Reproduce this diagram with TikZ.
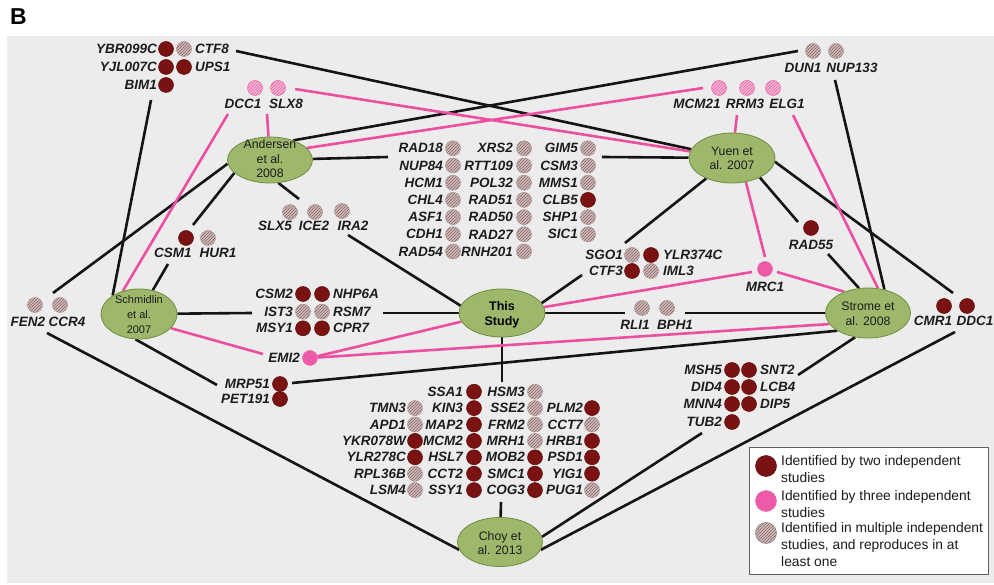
\documentclass[tikz,border=0pt]{standalone}
\usepackage{fontspec}
\setmainfont{Liberation Sans}
\usetikzlibrary{patterns,shapes.geometric}
\definecolor{bgc}{HTML}{ECECEC}
\definecolor{dred}{HTML}{7A1212}
\definecolor{dredb}{HTML}{5C0A0A}
\definecolor{gfill}{HTML}{CDBDBD}
\definecolor{gline}{HTML}{8C6262}
\definecolor{pfill}{HTML}{F9B4D6}
\definecolor{pline}{HTML}{E46AA6}
\definecolor{psolid}{HTML}{EE5AAA}
\definecolor{pinkln}{HTML}{EC4FA1}
\definecolor{efill}{HTML}{9DB86B}
\definecolor{edraw}{HTML}{6E8E3E}
\definecolor{txt}{HTML}{1C1C1C}
\pgfdeclarelayer{back}
\pgfdeclarelayer{lines}
\pgfsetlayers{back,lines,main}
\begin{document}
\begin{tikzpicture}[x=1pt,y=-1pt,
  gene/.style={inner sep=0pt, font=\fontsize{13.5}{15}\selectfont\bfseries\itshape, text=txt},
  dotD/.style={circle, inner sep=0pt, minimum size=15pt, fill=dred, draw=dredb, line width=0.5pt},
  dotG/.style={circle, inner sep=0pt, minimum size=15pt, draw=gline!70, line width=0.5pt, preaction={fill=gfill}, pattern=north east lines, pattern color=gline},
  dotP/.style={circle, inner sep=0pt, minimum size=15pt, draw=pline, line width=0.5pt, preaction={fill=pfill}, pattern=north east lines, pattern color=pline},
  dotS/.style={circle, inner sep=0pt, minimum size=15pt, fill=psolid, draw=pline, line width=0.5pt},
  study/.style={ellipse, fill=efill, draw=edraw, line width=0.8pt, inner sep=0pt},
  stext/.style={align=center, inner sep=0pt, text=txt, font=\fontsize{12.3}{14.5}\selectfont},
  bl/.style={line width=2.6pt, black!92},
  pk/.style={line width=2.6pt, pinkln},
  legtext/.style={anchor=north west, align=left, inner sep=0pt, text=txt, font=\fontsize{13.8}{17}\selectfont}
]
\useasboundingbox (0,0) rectangle (994,585);
\begin{pgfonlayer}{back}
\fill[bgc] (7,36) rectangle (994,583);
\end{pgfonlayer}
\node[font=\fontsize{23}{23}\selectfont\bfseries, inner sep=0pt] (B) at (18.5,16.5) {B};

% ---- study ellipses ----
\node[study, minimum width=85pt, minimum height=46pt] (A) at (270,160) {};
\node[stext] (A-t) at (270,159) {Andersen\\et al.\\2008};
\node[study, minimum width=86pt, minimum height=50pt] (Y) at (732,158) {};
\node[stext] (Y-t) at (732,158.5) {Yuen et\\al. 2007};
\node[study, minimum width=76pt, minimum height=50pt] (S) at (139,314) {};
\node[stext, font=\fontsize{11}{15}\selectfont] (S-t) at (139,315) {Schmidlin\\et al.\\2007};
\node[study, minimum width=86pt, minimum height=48pt] (T) at (502,313) {};
\node[stext, font=\fontsize{12.5}{15}\selectfont\bfseries, text=black] (T-t) at (502,314.5) {This\\Study};
\node[study, minimum width=85pt, minimum height=50pt] (R) at (868,313) {};
\node[stext] (R-t) at (868,314) {Strome et\\al. 2008};
\node[study, minimum width=85pt, minimum height=49pt] (C) at (500,542) {};
\node[stext] (C-t) at (500,543) {Choy et\\al. 2013};

% ---- top-left group ----
\node[gene,anchor=east] (l-YBR099C) at (157,49) {YBR099C};
\node[dotD] (d-YBR099C) at (166,49) {};
\node[dotG] (d-CTF8) at (184,49) {};
\node[gene,anchor=west] (l-CTF8) at (195,49) {CTF8};
\node[gene,anchor=east] (l-YJL007C) at (157,67) {YJL007C};
\node[dotD] (d-YJL007C) at (166,67) {};
\node[dotD] (d-UPS1) at (184,67) {};
\node[gene,anchor=west] (l-UPS1) at (195,67) {UPS1};
\node[gene,anchor=east] (l-BIM1) at (157,85) {BIM1};
\node[dotD] (d-BIM1) at (166,85) {};
\coordinate (cCTF8) at (236,51);
\coordinate (cBIM1) at (151,100);

% ---- DCC1 / SLX8 ----
\node[dotP] (d-DCC1) at (255,88) {};
\node[dotP] (d-SLX8) at (278,88) {};
\node[gene] (l-DCC1) at (243,104) {DCC1};
\node[gene] (l-SLX8) at (286,104) {SLX8};
\coordinate (cDCC1) at (228,114);
\coordinate (cSLX8) at (267,114);
\coordinate (cSLX8r) at (295,89);

% ---- MCM21 / RRM3 / ELG1 ----
\node[dotP] (d-MCM21) at (719,88) {};
\node[dotP] (d-RRM3) at (747,88) {};
\node[dotP] (d-ELG1) at (773,88) {};
\node[gene] (l-MCM21) at (697,104) {MCM21};
\node[gene] (l-RRM3) at (745,104) {RRM3};
\node[gene] (l-ELG1) at (787,104) {ELG1};
\coordinate (cMCM21) at (703,88);
\coordinate (cRRM3) at (737,115);
\coordinate (cELG1) at (793,115);

% ---- DUN1 / NUP133 ----
\node[dotG] (d-DUN1) at (813,51) {};
\node[dotG] (d-NUP133) at (836,51) {};
\node[gene] (l-DUN1) at (803,68) {DUN1};
\node[gene] (l-NUP133) at (852,68) {NUP133};
\coordinate (cDUN1) at (798,51);
\coordinate (cNUP133) at (835,80);

% ---- central top cluster ----
\foreach \n/\t [count=\i from 0] in {RAD18/G,NUP84/G,HCM1/G,CHL4/G,ASF1/G,CDH1/G,RAD54/G}{
  \node[dot\t] (d-\n) at (453,{148.3+17.2*\i}) {};
  \node[gene,anchor=east] (l-\n) at (443,{148.3+17.2*\i}) {\n};}
\foreach \n/\t [count=\i from 0] in {XRS2/G,RTT109/G,POL32/G,RAD51/G,RAD50/G,RAD27/G,RNH201/G}{
  \node[dot\t] (d-\n) at (524,{148.3+17.2*\i}) {};
  \node[gene,anchor=east] (l-\n) at (513,{148.3+17.2*\i}) {\n};}
\foreach \n/\t [count=\i from 0] in {GIM5/G,CSM3/G,MMS1/G,CLB5/D,SHP1/G,SIC1/G}{
  \node[dot\t] (d-\n) at (588,{148.3+17.2*\i}) {};
  \node[gene,anchor=east] (l-\n) at (578,{148.3+17.2*\i}) {\n};}
\coordinate (cRADl) at (388,157);
\coordinate (cRADr) at (602,157);

% ---- SLX5 / ICE2 / IRA2 ----
\node[dotG] (d-SLX5) at (290,212) {};
\node[dotG] (d-ICE2) at (315,212) {};
\node[dotG] (d-IRA2) at (342,211) {};
\node[gene] (l-SLX5) at (275,226) {SLX5};
\node[gene] (l-ICE2) at (314,226) {ICE2};
\node[gene] (l-IRA2) at (353,226) {IRA2};
\coordinate (cSLX5) at (299,199);
\coordinate (cIRA2) at (348,235);

% ---- CSM1 / HUR1 ----
\node[dotD] (d-CSM1) at (186,238) {};
\node[dotG] (d-HUR1) at (208,238) {};
\node[gene] (l-CSM1) at (173,253) {CSM1};
\node[gene] (l-HUR1) at (218,253) {HUR1};
\coordinate (cCSM1t) at (193,225);
\coordinate (cCSM1b) at (168,264);

% ---- FEN2 / CCR4 ----
\node[dotG] (d-FEN2) at (35,305) {};
\node[dotG] (d-CCR4) at (60,305) {};
\node[gene] (l-FEN2) at (28,322) {FEN2};
\node[gene] (l-CCR4) at (67,322) {CCR4};
\coordinate (cFENt) at (53,293);
\coordinate (cFENb) at (47,333);

% ---- CSM2 group ----
\foreach \a/\ta/\b/\tb/\y in {CSM2/D/NHP6A/D/294,IST3/G/RSM7/G/311.7,MSY1/D/CPR7/D/328.3}{
  \node[gene,anchor=east] (l-\a) at (293,\y) {\a};
  \node[dot\ta] (d-\a) at (303,\y) {};
  \node[dot\tb] (d-\b) at (322,\y) {};
  \node[gene,anchor=west] (l-\b) at (333,\y) {\b};}
\coordinate (cCSM2l) at (252,313);
\coordinate (cRSM7r) at (383,313);

% ---- EMI2 ----
\node[gene,anchor=east] (l-EMI2) at (300,358) {EMI2};
\node[dotS] (d-EMI2) at (310,358) {};
\coordinate (cEMI2) at (263,354);

% ---- MRP51 / PET191 ----
\node[gene,anchor=east] (l-MRP51) at (270,384) {MRP51};
\node[dotD] (d-MRP51) at (280,384) {};
\node[gene,anchor=east] (l-PET191) at (270,399) {PET191};
\node[dotD] (d-PET191) at (280,399) {};
\coordinate (cMRPl) at (217,385);
\coordinate (cMRPr) at (292,383);

% ---- SGO1 group ----
\node[gene,anchor=east] (l-SGO1) at (623,255) {SGO1};
\node[dotG] (d-SGO1) at (632,255) {};
\node[dotD] (d-YLR374C) at (651,255) {};
\node[gene,anchor=west] (l-YLR374C) at (663,255) {YLR374C};
\node[gene,anchor=east] (l-CTF3) at (623,271) {CTF3};
\node[dotD] (d-CTF3) at (632,271) {};
\node[dotG] (d-IML3) at (651,271) {};
\node[gene,anchor=west] (l-IML3) at (663,271) {IML3};
\coordinate (cSGO1) at (625,243);
\coordinate (cCTF3) at (582,275);

% ---- RAD55 ----
\node[dotD] (d-RAD55) at (811,228) {};
\node[gene] (l-RAD55) at (811,245) {RAD55};
\coordinate (cRAD55t) at (798,222);
\coordinate (cRAD55b) at (828,254);

% ---- MRC1 ----
\node[dotS] (d-MRC1) at (765,269) {};
\node[gene] (l-MRC1) at (765,287) {MRC1};
\coordinate (cMRCt) at (765,257);
\coordinate (cMRCl) at (752,272);
\coordinate (cMRCr) at (777,272);

% ---- RLI1 / BPH1 ----
\node[dotG] (d-RLI1) at (642,308) {};
\node[dotG] (d-BPH1) at (667,308) {};
\node[gene] (l-RLI1) at (635,325) {RLI1};
\node[gene] (l-BPH1) at (675,325) {BPH1};
\coordinate (cRLI1) at (625,313);
\coordinate (cBPH1) at (685,313);

% ---- CMR1 / DDC1 ----
\node[dotD] (d-CMR1) at (944,306) {};
\node[dotD] (d-DDC1) at (967,306) {};
\node[gene] (l-CMR1) at (933,321) {CMR1};
\node[gene] (l-DDC1) at (975,321) {DDC1};
\coordinate (cDDCt) at (953,293);
\coordinate (cDDCb) at (955,332);

% ---- MSH5 group ----
\foreach \a/\b/\y in {MSH5/SNT2/370,DID4/LCB4/387,MNN4/DIP5/404}{
  \node[gene,anchor=east] (l-\a) at (722,\y) {\a};
  \node[dotD] (d-\a) at (732,\y) {};
  \node[dotD] (d-\b) at (749,\y) {};
  \node[gene,anchor=west] (l-\b) at (760,\y) {\b};}
\node[gene,anchor=east] (l-TUB2) at (722,422) {TUB2};
\node[dotD] (d-TUB2) at (732,422) {};
\coordinate (cMSH5) at (798,375);
\coordinate (cTUB2) at (702,433);

% ---- Choy cluster ----
\foreach \n/\t [count=\i from 1] in {TMN3/G,APD1/G,YKR078W/D,YLR278C/D,RPL36B/G,LSM4/G}{
  \node[dot\t] (d-\n) at (415,{391.7+16.4*\i}) {};
  \node[gene,anchor=east] (l-\n) at (406,{391.7+16.4*\i}) {\n};}
\foreach \n/\t [count=\i from 0] in {SSA1/D,KIN3/D,MAP2/D,MCM2/D,HSL7/D,CCT2/D,SSY1/D}{
  \node[dot\t] (d-\n) at (474,{391.7+16.4*\i}) {};
  \node[gene,anchor=east] (l-\n) at (463,{391.7+16.4*\i}) {\n};}
\foreach \n/\t [count=\i from 0] in {HSM3/G,SSE2/G,FRM2/G,MRH1/G,MOB2/D,SMC1/D,COG3/D}{
  \node[dot\t] (d-\n) at (535,{391.7+16.4*\i}) {};
  \node[gene,anchor=east] (l-\n) at (525,{391.7+16.4*\i}) {\n};}
\foreach \n/\t [count=\i from 1] in {PLM2/D,CCT7/G,HRB1/D,PSD1/D,YIG1/D,PUG1/G}{
  \node[dot\t] (d-\n) at (592,{391.7+16.4*\i}) {};
  \node[gene,anchor=east] (l-\n) at (583,{391.7+16.4*\i}) {\n};}
\coordinate (cClTop) at (502,382);
\coordinate (cClBot) at (501,502);

% ---- legend ----
\node[draw=gray!75!black, fill=white, line width=0.8pt, minimum width=239pt, minimum height=127pt, anchor=north west, inner sep=0pt] (legend) at (749,447) {};
\node[dotD, minimum size=21pt] (lg-d) at (766,466) {};
\node[dotS, minimum size=21pt] (lg-s) at (766,501) {};
\node[dotG, minimum size=21pt, draw=gray] (lg-g) at (766,533) {};
\node[legtext] (lg-t1) at (781,455) {Identified by two independent\\studies};
\node[legtext] (lg-t2) at (781,490) {Identified by three independent\\studies};
\node[legtext] (lg-t3) at (781,522) {Identified in multiple independent\\studies, and reproduces in at\\least one};

% ---- connectors ----
\begin{pgfonlayer}{lines}
\draw[bl] (cCTF8) -- (Y);
\draw[bl] (cDUN1) -- (A.40);
\draw[bl] (cBIM1) -- (S.145);
\draw[bl] (A) -- (cRADl);
\draw[bl] (cRADr) -- (Y);
\draw[bl] (A.185) -- (cFENt);
\draw[bl] (A.200) -- (cCSM1t);
\draw[bl] (A.290) -- (cSLX5);
\draw[bl] (cCSM1b) -- (S);
\draw[bl] (cIRA2) -- (T.170);
\draw[bl] (Y) -- (cSGO1);
\draw[bl] (cCTF3) -- (T.14);
\draw[bl] (Y.325) -- (cRAD55t);
\draw[bl] (cRAD55b) -- (R.110);
\draw[bl] (Y.355) -- (cDDCt);
\draw[bl] (cDDCb) -- (C.349);
\draw[bl] (cNUP133) -- (R.55);
\draw[bl] (T) -- (cRLI1);
\draw[bl] (cBPH1) -- (R);
\draw[bl] (cMRPr) -- (R.210);
\draw[bl] (S.262) -- (cMRPl);
\draw[bl] (S) -- (cCSM2l);
\draw[bl] (cRSM7r) -- (T);
\draw[bl] (cFENb) -- (C.191);
\draw[bl] (T) -- (cClTop);
\draw[bl] (cClBot) -- (C);
\draw[bl] (R.242) -- (cMSH5);
\draw[bl] (cTUB2) -- (C.7);
\draw[pk] (cDCC1) -- (S.125);
\draw[pk] (cSLX8) -- (A);
\draw[pk] (cSLX8r) -- (Y);
\draw[pk] (cMCM21) -- (A.18);
\draw[pk] (cRRM3) -- (Y);
\draw[pk] (cELG1) -- (R.68);
\draw[pk] (Y.300) -- (cMRCt);
\draw[pk] (cMRCl) -- (T.8);
\draw[pk] (cMRCr) -- (R.138);
\draw[pk] (S.336) -- (cEMI2);
\draw[pk] (d-EMI2) -- (T.192);
\draw[pk] (d-EMI2) -- (R.196);
\end{pgfonlayer}
\end{tikzpicture}
\end{document}
